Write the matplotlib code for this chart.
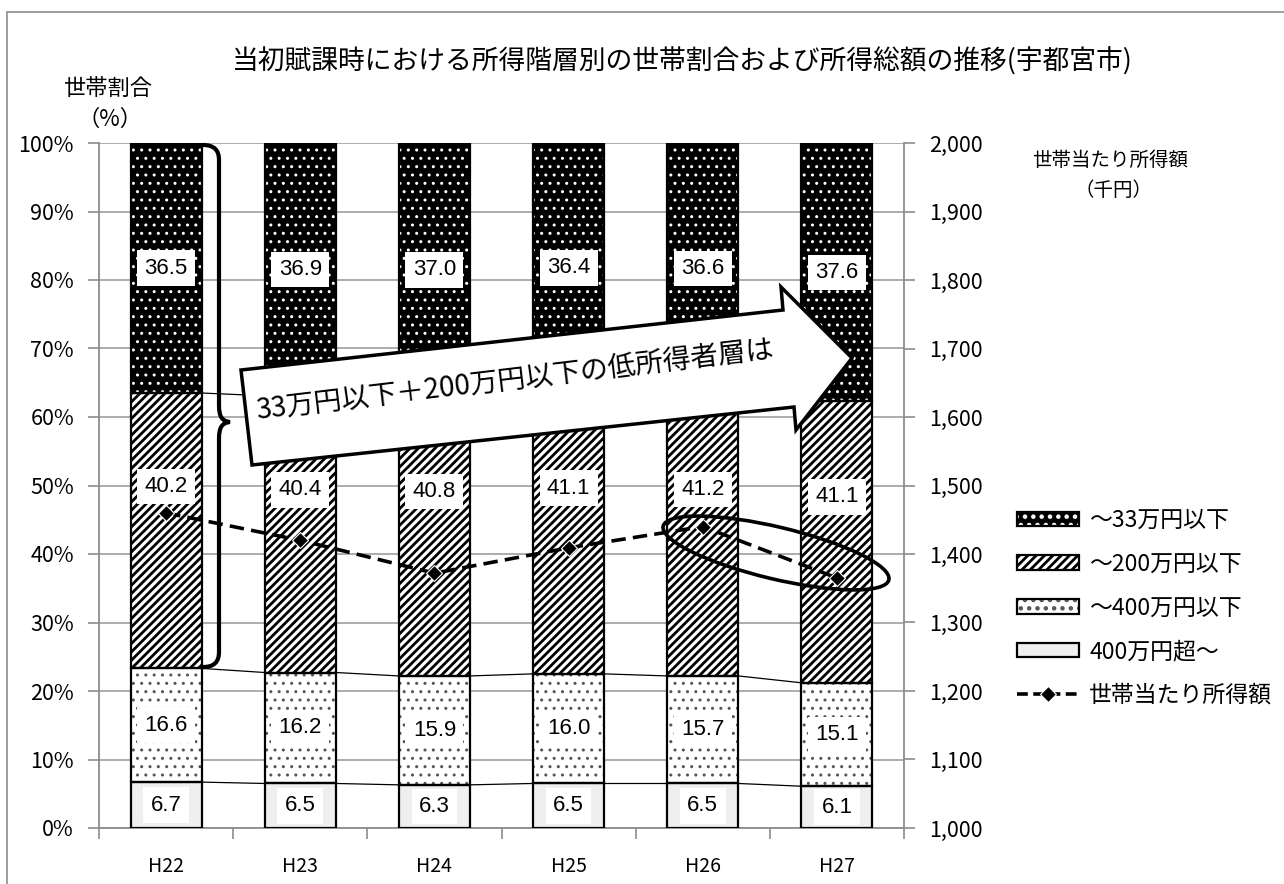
import numpy as np
import matplotlib
matplotlib.use("Agg")
import matplotlib.pyplot as plt
from matplotlib.patches import Patch, Polygon, Ellipse, Rectangle, PathPatch
from matplotlib.path import Path
from matplotlib.lines import Line2D
from matplotlib.legend_handler import HandlerTuple
from matplotlib.transforms import IdentityTransform
from matplotlib.ticker import FuncFormatter

plt.rcParams['font.family'] = ['Noto Sans CJK JP', 'DejaVu Sans']

years = ['H22', 'H23', 'H24', 'H25', 'H26', 'H27']
over_400 = [6.7, 6.5, 6.3, 6.5, 6.5, 6.1]       # 400万円超～
under_400 = [16.6, 16.2, 15.9, 16.0, 15.7, 15.1]  # ～400万円以下
under_200 = [40.2, 40.4, 40.8, 41.1, 41.2, 41.1]  # ～200万円以下
under_33 = [36.5, 36.9, 37.0, 36.4, 36.6, 37.6]   # ～33万円以下
income = [1460, 1420, 1372, 1409, 1440, 1365]     # 世帯当たり所得額 (千円)

W, H = 1284, 884
GRAY = '#8c8c8c'


def px(x, y):
    # pixel position measured from the top-left corner -> display coords
    return (x, H - y)


fig = plt.figure(figsize=(W / 100, H / 100), dpi=100)
ax = fig.add_axes([99 / W, 1 - 828 / H, (904 - 99) / W, (828 - 143) / H])

x = np.arange(len(years))
w = 0.53
segments = [over_400, under_400, under_200, under_33]
fills = [
    dict(facecolor='#efefef', edgecolor='#efefef', hatch=None),
    dict(facecolor='white', edgecolor='#555555', hatch='..'),
    dict(facecolor='white', edgecolor='black', hatch='////'),
    dict(facecolor='black', edgecolor='white', hatch='..'),
]
hatch_lw = [1.0, 1.0, 2.0, 1.0]

bottom = np.zeros(len(years))
bounds = []
label_pos = []
for k, (vals, st) in enumerate(zip(segments, fills)):
    vals = np.array(vals)
    with plt.rc_context({'hatch.linewidth': hatch_lw[k]}):
        ax.bar(x, vals, w, bottom=bottom, linewidth=0, zorder=2, **st)
    ax.bar(x, vals, w, bottom=bottom, fill=False, edgecolor='black',
           linewidth=1.6, zorder=3)
    if k == 2:
        label_pos.append(bottom + vals * 0.66)
    else:
        label_pos.append(bottom + vals / 2)
    bottom = bottom + vals
    if k < 3:
        bounds.append(bottom.copy())

# series lines between neighbouring bars
for cum in bounds:
    for i in range(len(x) - 1):
        ax.plot([x[i] + w / 2, x[i + 1] - w / 2], [cum[i], cum[i + 1]],
                color='black', lw=0.9, zorder=2)

for vals, ypos in zip(segments, label_pos):
    for i, v in enumerate(vals):
        ax.text(x[i], ypos[i], f'{v:.1f}', ha='center', va='center',
                fontsize=16, family='Liberation Sans', zorder=4,
                bbox=dict(boxstyle='square,pad=0.33', fc='white', ec='none'))

ax.set_xlim(-0.5, len(years) - 0.5)
ax.set_ylim(0, 100)
ax.set_yticks(np.arange(0, 101, 10))
ax.yaxis.set_major_formatter(FuncFormatter(lambda v, p: f'{int(v)}%'))
ax.set_xticks(x, years)
ax.set_xticks(np.arange(-0.5, len(years), 1), minor=True)
ax.tick_params(axis='x', which='major', length=0, labelsize=14, pad=20)
ax.tick_params(axis='x', which='minor', length=8, color=GRAY, width=1.2)
ax.tick_params(axis='y', length=8, color=GRAY, width=1.2, labelsize=15.5, pad=10)
ax.yaxis.grid(True, color='#a6a6a6', lw=1.3)
ax.set_axisbelow(True)
for s in ['top', 'right']:
    ax.spines[s].set_visible(False)
for s in ['left', 'bottom']:
    ax.spines[s].set_color(GRAY)
    ax.spines[s].set_linewidth(1.3)

ax2 = ax.twinx()
ax2.plot(x, income, color='black', ls=(0, (4, 2)), lw=2.6, marker='D',
         ms=8.5, mfc='black', mec='white', mew=0.8, zorder=5)
ax2.set_ylim(1000, 2000)
ax2.set_yticks(np.arange(1000, 2001, 100))
ax2.yaxis.set_major_formatter(FuncFormatter(lambda v, p: f'{int(v):,}'))
ax2.tick_params(axis='y', length=8, color=GRAY, width=1.2, labelsize=15.5, pad=10)
for s in ['top', 'left', 'bottom']:
    ax2.spines[s].set_visible(False)
ax2.spines['right'].set_color(GRAY)
ax2.spines['right'].set_linewidth(1.3)

# titles
fig.text(682 / W, 1 - 62 / H, '当初賦課時における所得階層別の世帯割合および所得総額の推移(宇都宮市)',
         ha='center', va='center', fontsize=19.3)
fig.text(108 / W, 1 - 88 / H, '世帯割合', ha='center', va='center', fontsize=16)
fig.text(110 / W, 1 - 119 / H, '（%）', ha='center', va='center', fontsize=16)
fig.text(1110 / W, 1 - 160 / H, '世帯当たり所得額', ha='center', va='center', fontsize=14)
fig.text(1114 / W, 1 - 190 / H, '（千円）', ha='center', va='center', fontsize=14)

# legend
outline = dict(fill=False, edgecolor='black', linewidth=1.6)
handles = [
    (Patch(facecolor='black', edgecolor='white', hatch='..', lw=0), Patch(**outline)),
    (Patch(facecolor='white', edgecolor='black', hatch='////', lw=0), Patch(**outline)),
    (Patch(facecolor='white', edgecolor='#555555', hatch='..', lw=0), Patch(**outline)),
    (Patch(facecolor='#efefef', lw=0), Patch(**outline)),
    Line2D([], [], color='black', ls=(0, (3, 1.5)), lw=2.6, marker='D', ms=8,
           mfc='black', mec='white', mew=0.8),
]
labels = ['～33万円以下', '～200万円以下', '～400万円以下', '400万円超～', '世帯当たり所得額']
with plt.rc_context({'hatch.linewidth': 2.0}):
    fig.legend(handles, labels, loc='upper left', bbox_to_anchor=(1008 / W, 1 - 500 / H),
               frameon=False, fontsize=16.5, handlelength=2.7, handleheight=0.6,
               labelspacing=0.9, handletextpad=0.45, borderaxespad=0,
               handler_map={tuple: HandlerTuple(ndivide=1)})

# arrow with comment
arrow_pts = [px(241, 370), px(783, 310), px(781, 287), px(852, 358),
             px(796, 430), px(794, 407), px(252, 465)]
fig.patches.append(Polygon(arrow_pts, closed=True, facecolor='white',
                           edgecolor='black', lw=2.5, transform=IdentityTransform(),
                           figure=fig, zorder=10))
tx, ty = px(515, 380)
fig.text(tx / W, ty / H, '33万円以下＋200万円以下の低所得者層は', ha='center',
         va='center', fontsize=20, rotation=6.8, rotation_mode='anchor', zorder=11)

# brace over the low income layers of H22
verts = [px(203, 145), px(214, 145), px(219, 150), px(219, 160),
         px(219, 405), px(219, 417), px(222, 421), px(230, 422),
         px(222, 423), px(219, 427), px(219, 439), px(219, 652),
         px(219, 662), px(214, 667), px(203, 667)]
codes = [Path.MOVETO, Path.CURVE4, Path.CURVE4, Path.CURVE4, Path.LINETO,
         Path.CURVE4, Path.CURVE4, Path.CURVE4, Path.CURVE4, Path.CURVE4,
         Path.CURVE4, Path.LINETO, Path.CURVE4, Path.CURVE4, Path.CURVE4]
fig.patches.append(PathPatch(Path(verts, codes), fill=False, edgecolor='black',
                             lw=3, transform=IdentityTransform(), figure=fig,
                             zorder=10))

# ellipse around H26-H27
fig.patches.append(Ellipse(px(776, 553), 232, 52, angle=-13.4, fill=False,
                           edgecolor='black', lw=2.6, transform=IdentityTransform(),
                           figure=fig, zorder=10))

# outer frame
fig.patches.append(Rectangle((7, -20), 1300, H - 12 + 20, fill=False,
                             edgecolor=GRAY, lw=1.2, transform=IdentityTransform(),
                             figure=fig, zorder=0))

fig.savefig('out.png', dpi=100)
